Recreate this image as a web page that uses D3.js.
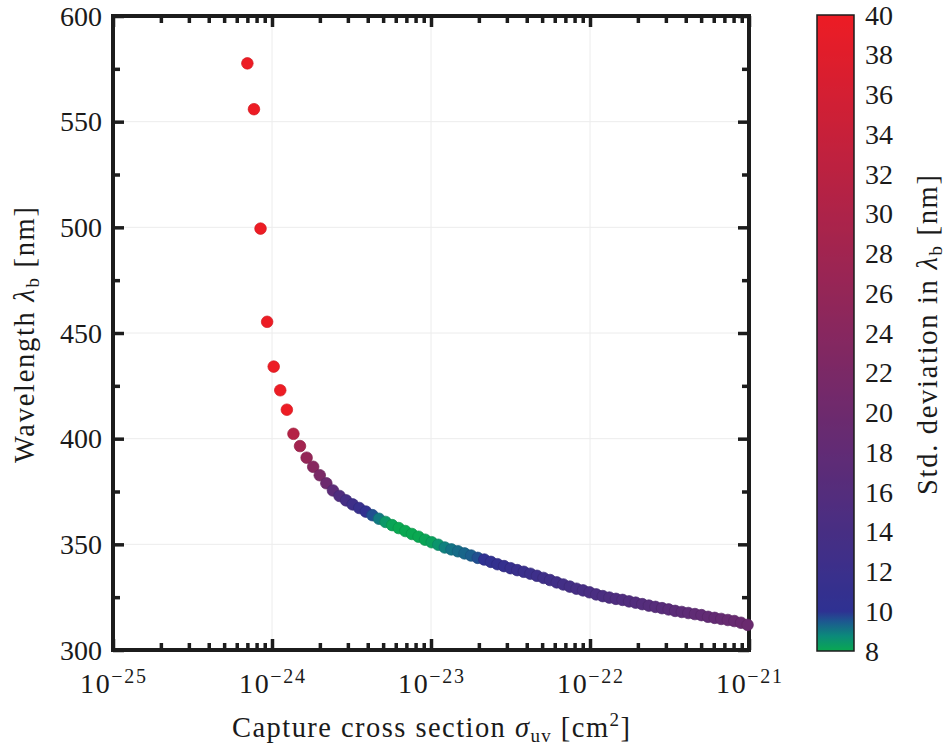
<!DOCTYPE html>
<html>
<head>
<meta charset="utf-8">
<script src="https://cdn.jsdelivr.net/npm/d3@7"></script>
<style>
  html, body { margin: 0; padding: 0; background: #ffffff; }
  svg text { font-family: "Liberation Serif", "Times New Roman", serif; fill: #1a1a1a; }
</style>
</head>
<body>
<svg id="chart" width="946" height="749"></svg>
<script>
// Capture cross section sigma_uv [cm^2]
const crossSection = [
  7.00e-25, 7.70e-25, 8.47e-25, 9.32e-25, 1.025e-24, 1.127e-24, 1.240e-24, 1.364e-24, 1.500e-24, 1.651e-24,
  1.816e-24, 1.997e-24, 2.197e-24, 2.417e-24, 2.658e-24, 2.924e-24, 3.216e-24, 3.538e-24, 3.892e-24, 4.281e-24,
  4.709e-24, 5.180e-24, 5.698e-24, 6.268e-24, 6.895e-24, 7.584e-24, 8.343e-24, 9.177e-24, 1.0095e-23, 1.1104e-23,
  1.2215e-23, 1.3436e-23, 1.4780e-23, 1.6258e-23, 1.7884e-23, 1.9672e-23, 2.1639e-23, 2.3803e-23, 2.6184e-23, 2.8802e-23,
  3.1682e-23, 3.4851e-23, 3.8336e-23, 4.2169e-23, 4.6386e-23, 5.1025e-23, 5.6127e-23, 6.1740e-23, 6.7914e-23, 7.4706e-23,
  8.2176e-23, 9.0394e-23, 9.9433e-23, 1.0938e-22, 1.2031e-22, 1.3235e-22, 1.4558e-22, 1.6014e-22, 1.7615e-22, 1.9377e-22,
  2.1314e-22, 2.3446e-22, 2.5790e-22, 2.8369e-22, 3.1206e-22, 3.4327e-22, 3.7760e-22, 4.1536e-22, 4.5689e-22, 5.0258e-22,
  5.5284e-22, 6.0812e-22, 6.6893e-22, 7.3583e-22, 8.0941e-22, 8.9035e-22, 9.7939e-22
];

// Wavelength lambda_b [nm]
const wavelength = [
  577.6, 555.9, 499.4, 455.3, 434.1, 422.9, 413.7, 402.3, 396.5, 391.0,
  386.7, 382.7, 378.9, 375.5, 372.9, 370.8, 368.9, 367.2, 365.5, 363.8,
  362.1, 360.6, 359.1, 357.7, 356.3, 354.9, 353.6, 352.2, 351.0, 349.8,
  348.5, 347.6, 346.7, 345.7, 344.7, 343.6, 342.8, 341.7, 340.6, 339.7,
  338.7, 337.8, 337.0, 336.1, 335.1, 334.1, 333.1, 332.0, 331.0, 330.0,
  329.0, 328.2, 327.3, 326.3, 325.5, 324.8, 324.2, 323.7, 323.0, 322.4,
  321.7, 321.0, 320.4, 319.8, 319.2, 318.5, 318.0, 317.5, 317.0, 316.5,
  315.7, 315.2, 314.7, 314.2, 313.7, 312.9, 311.9
];

// Standard deviation of lambda_b [nm]
const stdDeviation = [
  40, 40, 40, 40, 40, 40, 40, 31, 28.4, 26,
  24, 22, 19.8, 17.2, 15.2, 13.6, 12.5, 11.5, 10.5, 9.6,
  9.0, 8.4, 8.1, 8.0, 8.0, 8.0, 8.0, 8.1, 8.2, 8.5,
  8.9, 9.1, 9.2, 9.3, 9.4, 9.6, 10.1, 10.5, 10.8, 11.1,
  11.4, 11.7, 11.9, 12.1, 12.3, 12.6, 12.8, 13.0, 13.3, 13.5,
  13.7, 13.9, 14.2, 14.4, 14.6, 14.8, 15.1, 15.3, 15.5, 15.7,
  16.0, 16.2, 16.4, 16.6, 16.9, 17.1, 17.3, 17.5, 17.8, 18.0,
  18.2, 18.4, 18.7, 18.9, 19.1, 19.3, 19.5
];

const xTickExponents = [-25, -24, -23, -22, -21];
const yTicks = [300, 350, 400, 450, 500, 550, 600];
const yMinorTicks = [325, 375, 425, 475, 525, 575];
const colorbarTicks = [8, 10, 12, 14, 16, 18, 20, 22, 24, 26, 28, 30, 32, 34, 36, 38, 40];

// Colormap: green -> teal -> blue at the low end, then blue -> red
const cmapValues = [8, 8.75, 9.5, 10, 40];
const cmapColors = ["#0aa851", "#0b8a7a", "#1d5790", "#2e3192", "#ed1c24"];

const svg = d3.select("#chart");
const plot = { left: 113, right: 749, top: 16, bottom: 650 };
const ink = "#1c1c1c";

const x = d3.scaleLog().domain([1e-25, 1e-21]).range([plot.left, plot.right]);
const y = d3.scaleLinear().domain([300, 600]).range([plot.bottom, plot.top]);
const color = d3.scaleLinear().domain(cmapValues).range(cmapColors)
  .interpolate(d3.interpolateRgb).clamp(true);

// grid lines at major ticks
const grid = svg.append("g").attr("stroke", "#ececec").attr("stroke-width", 1);
xTickExponents.slice(1, -1).forEach(e => {
  const gx = x(Math.pow(10, e));
  grid.append("line").attr("x1", gx).attr("x2", gx).attr("y1", plot.top).attr("y2", plot.bottom);
});
yTicks.slice(1, -1).forEach(v => {
  grid.append("line").attr("x1", plot.left).attr("x2", plot.right).attr("y1", y(v)).attr("y2", y(v));
});

// minor x ticks: 2..9 within each decade
const xMajor = xTickExponents.map(e => Math.pow(10, e));
const xMinor = [];
xTickExponents.slice(0, -1).forEach(e => {
  for (let m = 2; m <= 9; m++) xMinor.push(m * Math.pow(10, e));
});

function styleAxis(g) {
  g.select(".domain").remove();
  g.selectAll(".tick line").attr("stroke", ink).attr("stroke-width", 3.5);
  g.selectAll(".tick text").remove();
}

const majorLen = 11, minorLen = 7;
// bottom & top
svg.append("g").attr("transform", `translate(0,${plot.bottom})`)
  .call(d3.axisBottom(x).tickValues(xMajor).tickSize(-majorLen).tickSizeOuter(0)).call(styleAxis);
svg.append("g").attr("transform", `translate(0,${plot.bottom})`)
  .call(d3.axisBottom(x).tickValues(xMinor).tickSize(-minorLen).tickSizeOuter(0)).call(styleAxis);
svg.append("g").attr("transform", `translate(0,${plot.top})`)
  .call(d3.axisTop(x).tickValues(xMajor).tickSize(-majorLen).tickSizeOuter(0)).call(styleAxis);
svg.append("g").attr("transform", `translate(0,${plot.top})`)
  .call(d3.axisTop(x).tickValues(xMinor).tickSize(-minorLen).tickSizeOuter(0)).call(styleAxis);
// left & right
svg.append("g").attr("transform", `translate(${plot.left},0)`)
  .call(d3.axisLeft(y).tickValues(yTicks).tickSize(-majorLen).tickSizeOuter(0)).call(styleAxis);
svg.append("g").attr("transform", `translate(${plot.left},0)`)
  .call(d3.axisLeft(y).tickValues(yMinorTicks).tickSize(-minorLen).tickSizeOuter(0)).call(styleAxis);
svg.append("g").attr("transform", `translate(${plot.right},0)`)
  .call(d3.axisRight(y).tickValues(yTicks).tickSize(-majorLen).tickSizeOuter(0)).call(styleAxis);
svg.append("g").attr("transform", `translate(${plot.right},0)`)
  .call(d3.axisRight(y).tickValues(yMinorTicks).tickSize(-minorLen).tickSizeOuter(0)).call(styleAxis);

// frame
svg.append("rect")
  .attr("x", plot.left).attr("y", plot.top)
  .attr("width", plot.right - plot.left).attr("height", plot.bottom - plot.top)
  .attr("fill", "none").attr("stroke", ink).attr("stroke-width", 4);

// y tick labels
svg.append("g").selectAll("text").data(yTicks).join("text")
  .attr("x", plot.left - 11).attr("y", d => y(d)).attr("dy", "0.34em")
  .attr("text-anchor", "end").attr("font-size", 28).text(d => d);

// x tick labels 10^e
const xl = svg.append("g").selectAll("text").data(xTickExponents).join("text")
  .attr("x", d => x(Math.pow(10, d))).attr("y", 693)
  .attr("text-anchor", "middle").attr("font-size", 28)
  .attr("textLength", 66).attr("lengthAdjust", "spacing");
xl.append("tspan").text("10");
xl.append("tspan").attr("dy", -10).attr("font-size", 20).text(d => "\u2212" + Math.abs(d));

// x axis title
const xt = svg.append("text").attr("x", (plot.left + plot.right) / 2).attr("y", 737)
  .attr("text-anchor", "middle").attr("font-size", 28.5)
  .attr("textLength", 398).attr("lengthAdjust", "spacing");
xt.append("tspan").text("Capture cross section ");
xt.append("tspan").attr("font-style", "italic").text("σ");
xt.append("tspan").attr("font-size", 19).attr("dy", 5).text("uv");
xt.append("tspan").attr("dy", -5).text(" [cm");
xt.append("tspan").attr("font-size", 19).attr("dy", -11).text("2");
xt.append("tspan").attr("dy", 11).text("]");

// y axis title
const yt = svg.append("text").attr("transform", `translate(34,335) rotate(-90)`)
  .attr("text-anchor", "middle").attr("font-size", 28.5)
  .attr("textLength", 256).attr("lengthAdjust", "spacing");
yt.append("tspan").text("Wavelength ");
yt.append("tspan").attr("font-style", "italic").text("λ");
yt.append("tspan").attr("font-size", 19).attr("dy", 5).text("b");
yt.append("tspan").attr("dy", -5).text(" [nm]");

// data points
svg.append("g").selectAll("circle")
  .data(crossSection.map((s, i) => ({ s, w: wavelength[i], d: stdDeviation[i] })))
  .join("circle")
  .attr("cx", d => x(d.s)).attr("cy", d => y(d.w)).attr("r", 5.8)
  .attr("fill", d => color(d.d))
  .attr("stroke", d => d3.color(color(d.d)).darker(0.35))
  .attr("stroke-width", 0.7);

// colorbar
const cb = { left: 817, width: 37, top: 15, bottom: 651 };
const cy = d3.scaleLinear().domain([8, 40]).range([cb.bottom, cb.top]);
const grad = svg.append("defs").append("linearGradient")
  .attr("id", "cbar").attr("x1", 0).attr("y1", 1).attr("x2", 0).attr("y2", 0);
d3.range(8, 40.001, 0.25).forEach(v => {
  grad.append("stop").attr("offset", (v - 8) / 32).attr("stop-color", color(v));
});
svg.append("rect")
  .attr("x", cb.left).attr("y", cb.top).attr("width", cb.width).attr("height", cb.bottom - cb.top)
  .attr("fill", "url(#cbar)").attr("stroke", ink).attr("stroke-width", 1.5);

svg.append("g").selectAll("text").data(colorbarTicks).join("text")
  .attr("x", cb.left + cb.width + 11).attr("y", d => cy(d)).attr("dy", "0.34em")
  .attr("font-size", 28).text(d => d);

const ct = svg.append("text").attr("transform", `translate(937,335) rotate(-90)`)
  .attr("text-anchor", "middle").attr("font-size", 28.5)
  .attr("textLength", 320).attr("lengthAdjust", "spacing");
ct.append("tspan").text("Std. deviation in ");
ct.append("tspan").attr("font-style", "italic").text("λ");
ct.append("tspan").attr("font-size", 19).attr("dy", 5).text("b");
ct.append("tspan").attr("dy", -5).text(" [nm]");
</script>
</body>
</html>
